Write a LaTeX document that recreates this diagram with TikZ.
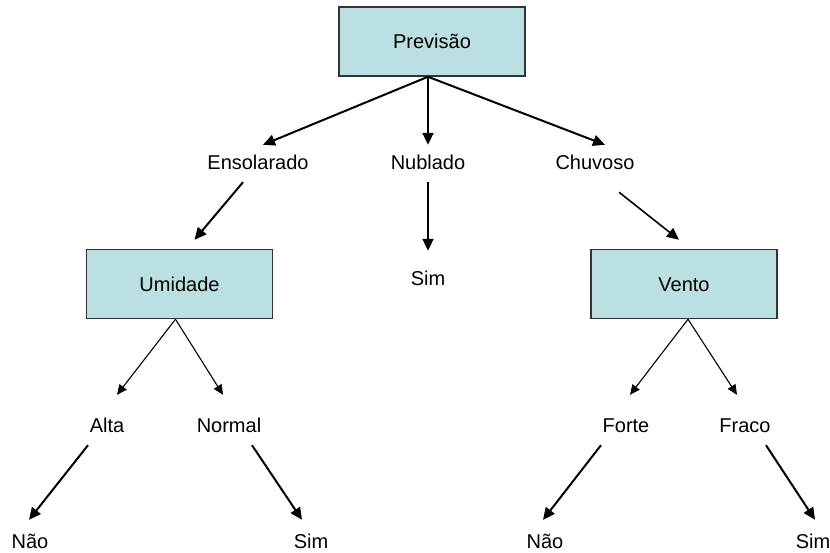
\documentclass[tikz,border=0pt]{standalone}
\usepackage{fontspec}
\setmainfont{Liberation Sans}
\usetikzlibrary{arrows.meta}
\definecolor{boxcyan}{RGB}{186,224,226}
\begin{document}
\begin{tikzpicture}[x=1pt,y=-1pt,
  box/.style={draw=black!80, line width=1.5pt, fill=boxcyan,
    minimum width=186pt, minimum height=69pt, inner sep=0pt,
    text height=14pt, text depth=0pt, font=\fontsize{20}{24}\selectfont},
  txt/.style={anchor=base, inner sep=9pt, text height=15pt, text depth=4pt,
    font=\fontsize{20}{24}\selectfont},
  bigarr/.style={line width=2pt, -{Triangle[length=12pt,width=11pt]}},
  midarr/.style={line width=1.6pt, -{Triangle[length=12pt,width=11pt]}},
  thinarr/.style={line width=1.1pt, -{Triangle[length=10pt,width=9pt]}}]
  \useasboundingbox (0,0) rectangle (830,552);

  % decision boxes
  \node[box] (prev) at (432,41.5) {Previsão};
  \node[box] (umi) at (179.5,284) {Umidade};
  \node[box] (vento) at (684,284) {Vento};

  % branch values and leaves
  \node[txt] (ens) at (258,169) {Ensolarado};
  \node[txt] (nub) at (428,169) {Nublado};
  \node[txt] (chu) at (595,169) {Chuvoso};
  \node[txt] (simmid) at (428,285) {Sim};
  \node[txt] (alta) at (107,432) {Alta};
  \node[txt] (normal) at (229,432) {Normal};
  \node[txt] (forte) at (626,432) {Forte};
  \node[txt] (fraco) at (745,432) {Fraco};
  \node[txt] (naoa) at (30,548) {Não};
  \node[txt] (sima) at (311,548) {Sim};
  \node[txt] (naob) at (545,548) {Não};
  \node[txt] (simb) at (813,548) {Sim};

  % first level
  \draw[bigarr] ([xshift=-4pt]prev.south) -- ([xshift=5pt]ens.north);
  \draw[bigarr] ([xshift=-4pt]prev.south) -- (nub.north);
  \draw[bigarr] ([xshift=-4pt]prev.south) -- ([xshift=10pt]chu.north);

  \draw[bigarr] ([xshift=-15pt]ens.south) -- ([xshift=15pt,yshift=9pt]umi.north);
  \draw[bigarr] (nub.south) -- ([yshift=10pt]simmid.north);
  \draw[midarr] ([xshift=24pt,yshift=-10pt]chu.south) -- ([xshift=-5pt,yshift=9pt]vento.north);

  % second level
  \draw[thinarr] ([xshift=-4pt]umi.south) -- ([xshift=10pt,yshift=13pt]alta.north);
  \draw[thinarr] ([xshift=-4pt]umi.south) -- ([xshift=-6pt,yshift=13pt]normal.north);
  \draw[thinarr] ([xshift=4pt]vento.south) -- ([xshift=4pt,yshift=13pt]forte.north);
  \draw[thinarr] ([xshift=4pt]vento.south) -- ([xshift=-8pt,yshift=13pt]fraco.north);

  % leaves
  \draw[bigarr] ([xshift=-19pt]alta.south) -- ([xshift=-1pt,yshift=4pt]naoa.north);
  \draw[bigarr] ([xshift=23pt]normal.south) -- ([xshift=-9pt,yshift=4pt]sima.north);
  \draw[bigarr] ([xshift=-25pt]forte.south) -- ([xshift=-2pt,yshift=4pt]naob.north);
  \draw[bigarr] ([xshift=21pt]fraco.south) -- ([xshift=2pt,yshift=4pt]simb.north);
\end{tikzpicture}
\end{document}
